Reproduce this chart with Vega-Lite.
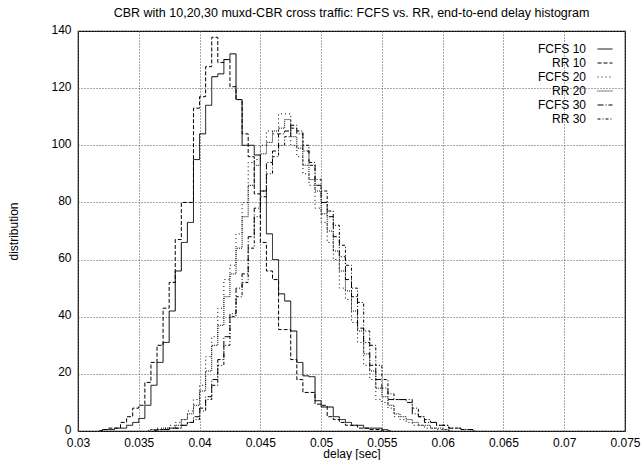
{
  "$schema": "https://vega.github.io/schema/vega-lite/v6.json",
  "width": 547,
  "height": 400,
  "autosize": {"type": "none"},
  "padding": {"left": 78, "top": 31, "right": 16, "bottom": 29},
  "background": "white",
  "title": {
    "text": "CBR with 10,20,30 muxd-CBR cross traffic: FCFS vs. RR, end-to-end delay histogram",
    "font": "Liberation Sans",
    "fontSize": 12.5,
    "fontWeight": "normal",
    "color": "black",
    "anchor": "middle",
    "offset": 4
  },
  "config": {
    "view": {"stroke": "black", "strokeWidth": 1.2},
    "axis": {
      "labelFont": "Liberation Sans",
      "labelFontSize": 12,
      "labelColor": "black",
      "titleFont": "Liberation Sans",
      "titleFontSize": 12,
      "titleFontWeight": "normal",
      "titleColor": "black",
      "domain": false,
      "ticks": false,
      "grid": true,
      "gridColor": "#555555",
      "gridDash": [1, 2],
      "gridWidth": 1,
      "gridOpacity": 1
    },
    "legend": {
      "labelFont": "Liberation Sans",
      "labelFontSize": 12,
      "labelColor": "black"
    }
  },
  "datasets": {
    "hist": [
      {"s": "FCFS 10", "d": 0.03175, "n": 0},
      {"s": "FCFS 10", "d": 0.03225, "n": 0.5},
      {"s": "FCFS 10", "d": 0.03275, "n": 0.5},
      {"s": "FCFS 10", "d": 0.03325, "n": 1},
      {"s": "FCFS 10", "d": 0.03375, "n": 1},
      {"s": "FCFS 10", "d": 0.03425, "n": 2},
      {"s": "FCFS 10", "d": 0.03475, "n": 3},
      {"s": "FCFS 10", "d": 0.03525, "n": 4.4},
      {"s": "FCFS 10", "d": 0.03575, "n": 9},
      {"s": "FCFS 10", "d": 0.03625, "n": 16},
      {"s": "FCFS 10", "d": 0.03675, "n": 24},
      {"s": "FCFS 10", "d": 0.03725, "n": 31},
      {"s": "FCFS 10", "d": 0.03775, "n": 42},
      {"s": "FCFS 10", "d": 0.03825, "n": 56},
      {"s": "FCFS 10", "d": 0.03875, "n": 66},
      {"s": "FCFS 10", "d": 0.03925, "n": 73},
      {"s": "FCFS 10", "d": 0.03975, "n": 95},
      {"s": "FCFS 10", "d": 0.04025, "n": 104},
      {"s": "FCFS 10", "d": 0.04075, "n": 114},
      {"s": "FCFS 10", "d": 0.04125, "n": 124},
      {"s": "FCFS 10", "d": 0.04175, "n": 125},
      {"s": "FCFS 10", "d": 0.04225, "n": 130},
      {"s": "FCFS 10", "d": 0.04275, "n": 132},
      {"s": "FCFS 10", "d": 0.04325, "n": 116},
      {"s": "FCFS 10", "d": 0.04375, "n": 100},
      {"s": "FCFS 10", "d": 0.04425, "n": 100},
      {"s": "FCFS 10", "d": 0.04475, "n": 96.6},
      {"s": "FCFS 10", "d": 0.04525, "n": 84},
      {"s": "FCFS 10", "d": 0.04575, "n": 69},
      {"s": "FCFS 10", "d": 0.04625, "n": 60},
      {"s": "FCFS 10", "d": 0.04675, "n": 48},
      {"s": "FCFS 10", "d": 0.04725, "n": 45.5},
      {"s": "FCFS 10", "d": 0.04775, "n": 35},
      {"s": "FCFS 10", "d": 0.04825, "n": 24},
      {"s": "FCFS 10", "d": 0.04875, "n": 19.3},
      {"s": "FCFS 10", "d": 0.04925, "n": 19},
      {"s": "FCFS 10", "d": 0.04975, "n": 10.6},
      {"s": "FCFS 10", "d": 0.05025, "n": 8.4},
      {"s": "FCFS 10", "d": 0.05075, "n": 8.4},
      {"s": "FCFS 10", "d": 0.05125, "n": 5},
      {"s": "FCFS 10", "d": 0.05175, "n": 4},
      {"s": "FCFS 10", "d": 0.05225, "n": 3},
      {"s": "FCFS 10", "d": 0.05275, "n": 2},
      {"s": "FCFS 10", "d": 0.05325, "n": 2},
      {"s": "FCFS 10", "d": 0.05375, "n": 1},
      {"s": "FCFS 10", "d": 0.05425, "n": 1},
      {"s": "FCFS 10", "d": 0.05475, "n": 1},
      {"s": "FCFS 10", "d": 0.05525, "n": 0.5},
      {"s": "FCFS 10", "d": 0.05575, "n": 0},
      {"s": "RR 10", "d": 0.03175, "n": 0},
      {"s": "RR 10", "d": 0.03225, "n": 0.5},
      {"s": "RR 10", "d": 0.03275, "n": 1},
      {"s": "RR 10", "d": 0.03325, "n": 1},
      {"s": "RR 10", "d": 0.03375, "n": 3},
      {"s": "RR 10", "d": 0.03425, "n": 5},
      {"s": "RR 10", "d": 0.03475, "n": 8},
      {"s": "RR 10", "d": 0.03525, "n": 9},
      {"s": "RR 10", "d": 0.03575, "n": 17},
      {"s": "RR 10", "d": 0.03625, "n": 24},
      {"s": "RR 10", "d": 0.03675, "n": 30},
      {"s": "RR 10", "d": 0.03725, "n": 43},
      {"s": "RR 10", "d": 0.03775, "n": 52},
      {"s": "RR 10", "d": 0.03825, "n": 67},
      {"s": "RR 10", "d": 0.03875, "n": 80},
      {"s": "RR 10", "d": 0.03925, "n": 80},
      {"s": "RR 10", "d": 0.03975, "n": 113},
      {"s": "RR 10", "d": 0.04025, "n": 117},
      {"s": "RR 10", "d": 0.04075, "n": 127.5},
      {"s": "RR 10", "d": 0.04125, "n": 137.8},
      {"s": "RR 10", "d": 0.04175, "n": 129},
      {"s": "RR 10", "d": 0.04225, "n": 130},
      {"s": "RR 10", "d": 0.04275, "n": 120.5},
      {"s": "RR 10", "d": 0.04325, "n": 116},
      {"s": "RR 10", "d": 0.04375, "n": 104},
      {"s": "RR 10", "d": 0.04425, "n": 96},
      {"s": "RR 10", "d": 0.04475, "n": 83},
      {"s": "RR 10", "d": 0.04525, "n": 66},
      {"s": "RR 10", "d": 0.04575, "n": 56},
      {"s": "RR 10", "d": 0.04625, "n": 53},
      {"s": "RR 10", "d": 0.04675, "n": 35.5},
      {"s": "RR 10", "d": 0.04725, "n": 35.5},
      {"s": "RR 10", "d": 0.04775, "n": 25},
      {"s": "RR 10", "d": 0.04825, "n": 18},
      {"s": "RR 10", "d": 0.04875, "n": 13.5},
      {"s": "RR 10", "d": 0.04925, "n": 13.5},
      {"s": "RR 10", "d": 0.04975, "n": 9.4},
      {"s": "RR 10", "d": 0.05025, "n": 9},
      {"s": "RR 10", "d": 0.05075, "n": 5},
      {"s": "RR 10", "d": 0.05125, "n": 4},
      {"s": "RR 10", "d": 0.05175, "n": 3},
      {"s": "RR 10", "d": 0.05225, "n": 2},
      {"s": "RR 10", "d": 0.05275, "n": 2},
      {"s": "RR 10", "d": 0.05325, "n": 1},
      {"s": "RR 10", "d": 0.05375, "n": 1},
      {"s": "RR 10", "d": 0.05425, "n": 0.5},
      {"s": "RR 10", "d": 0.05475, "n": 0.5},
      {"s": "RR 10", "d": 0.05525, "n": 0},
      {"s": "FCFS 20", "d": 0.03575, "n": 0},
      {"s": "FCFS 20", "d": 0.03625, "n": 0.5},
      {"s": "FCFS 20", "d": 0.03675, "n": 1},
      {"s": "FCFS 20", "d": 0.03725, "n": 1},
      {"s": "FCFS 20", "d": 0.03775, "n": 2},
      {"s": "FCFS 20", "d": 0.03825, "n": 3},
      {"s": "FCFS 20", "d": 0.03875, "n": 4},
      {"s": "FCFS 20", "d": 0.03925, "n": 7},
      {"s": "FCFS 20", "d": 0.03975, "n": 11},
      {"s": "FCFS 20", "d": 0.04025, "n": 16},
      {"s": "FCFS 20", "d": 0.04075, "n": 26},
      {"s": "FCFS 20", "d": 0.04125, "n": 33},
      {"s": "FCFS 20", "d": 0.04175, "n": 43},
      {"s": "FCFS 20", "d": 0.04225, "n": 53},
      {"s": "FCFS 20", "d": 0.04275, "n": 58},
      {"s": "FCFS 20", "d": 0.04325, "n": 69},
      {"s": "FCFS 20", "d": 0.04375, "n": 80},
      {"s": "FCFS 20", "d": 0.04425, "n": 94},
      {"s": "FCFS 20", "d": 0.04475, "n": 95},
      {"s": "FCFS 20", "d": 0.04525, "n": 100},
      {"s": "FCFS 20", "d": 0.04575, "n": 105},
      {"s": "FCFS 20", "d": 0.04625, "n": 104},
      {"s": "FCFS 20", "d": 0.04675, "n": 111},
      {"s": "FCFS 20", "d": 0.04725, "n": 111},
      {"s": "FCFS 20", "d": 0.04775, "n": 100},
      {"s": "FCFS 20", "d": 0.04825, "n": 96},
      {"s": "FCFS 20", "d": 0.04875, "n": 90},
      {"s": "FCFS 20", "d": 0.04925, "n": 86},
      {"s": "FCFS 20", "d": 0.04975, "n": 78},
      {"s": "FCFS 20", "d": 0.05025, "n": 73},
      {"s": "FCFS 20", "d": 0.05075, "n": 66},
      {"s": "FCFS 20", "d": 0.05125, "n": 60},
      {"s": "FCFS 20", "d": 0.05175, "n": 50},
      {"s": "FCFS 20", "d": 0.05225, "n": 46},
      {"s": "FCFS 20", "d": 0.05275, "n": 38},
      {"s": "FCFS 20", "d": 0.05325, "n": 31},
      {"s": "FCFS 20", "d": 0.05375, "n": 23},
      {"s": "FCFS 20", "d": 0.05425, "n": 18},
      {"s": "FCFS 20", "d": 0.05475, "n": 11},
      {"s": "FCFS 20", "d": 0.05525, "n": 10},
      {"s": "FCFS 20", "d": 0.05575, "n": 8},
      {"s": "FCFS 20", "d": 0.05625, "n": 5},
      {"s": "FCFS 20", "d": 0.05675, "n": 4},
      {"s": "FCFS 20", "d": 0.05725, "n": 3},
      {"s": "FCFS 20", "d": 0.05775, "n": 2},
      {"s": "FCFS 20", "d": 0.05825, "n": 2},
      {"s": "FCFS 20", "d": 0.05875, "n": 1},
      {"s": "FCFS 20", "d": 0.05925, "n": 1},
      {"s": "FCFS 20", "d": 0.05975, "n": 0.5},
      {"s": "FCFS 20", "d": 0.06025, "n": 0.5},
      {"s": "FCFS 20", "d": 0.06075, "n": 0},
      {"s": "RR 20", "d": 0.03575, "n": 0},
      {"s": "RR 20", "d": 0.03625, "n": 0.5},
      {"s": "RR 20", "d": 0.03675, "n": 0.5},
      {"s": "RR 20", "d": 0.03725, "n": 1},
      {"s": "RR 20", "d": 0.03775, "n": 1},
      {"s": "RR 20", "d": 0.03825, "n": 2},
      {"s": "RR 20", "d": 0.03875, "n": 4},
      {"s": "RR 20", "d": 0.03925, "n": 6},
      {"s": "RR 20", "d": 0.03975, "n": 9},
      {"s": "RR 20", "d": 0.04025, "n": 14},
      {"s": "RR 20", "d": 0.04075, "n": 21},
      {"s": "RR 20", "d": 0.04125, "n": 30},
      {"s": "RR 20", "d": 0.04175, "n": 37},
      {"s": "RR 20", "d": 0.04225, "n": 47},
      {"s": "RR 20", "d": 0.04275, "n": 55},
      {"s": "RR 20", "d": 0.04325, "n": 64},
      {"s": "RR 20", "d": 0.04375, "n": 75},
      {"s": "RR 20", "d": 0.04425, "n": 86},
      {"s": "RR 20", "d": 0.04475, "n": 93},
      {"s": "RR 20", "d": 0.04525, "n": 97},
      {"s": "RR 20", "d": 0.04575, "n": 101},
      {"s": "RR 20", "d": 0.04625, "n": 105},
      {"s": "RR 20", "d": 0.04675, "n": 106},
      {"s": "RR 20", "d": 0.04725, "n": 109},
      {"s": "RR 20", "d": 0.04775, "n": 103},
      {"s": "RR 20", "d": 0.04825, "n": 99},
      {"s": "RR 20", "d": 0.04875, "n": 93},
      {"s": "RR 20", "d": 0.04925, "n": 88},
      {"s": "RR 20", "d": 0.04975, "n": 84},
      {"s": "RR 20", "d": 0.05025, "n": 76},
      {"s": "RR 20", "d": 0.05075, "n": 70},
      {"s": "RR 20", "d": 0.05125, "n": 63},
      {"s": "RR 20", "d": 0.05175, "n": 56},
      {"s": "RR 20", "d": 0.05225, "n": 49},
      {"s": "RR 20", "d": 0.05275, "n": 42},
      {"s": "RR 20", "d": 0.05325, "n": 35},
      {"s": "RR 20", "d": 0.05375, "n": 27},
      {"s": "RR 20", "d": 0.05425, "n": 21},
      {"s": "RR 20", "d": 0.05475, "n": 15},
      {"s": "RR 20", "d": 0.05525, "n": 12},
      {"s": "RR 20", "d": 0.05575, "n": 9},
      {"s": "RR 20", "d": 0.05625, "n": 6},
      {"s": "RR 20", "d": 0.05675, "n": 5},
      {"s": "RR 20", "d": 0.05725, "n": 4},
      {"s": "RR 20", "d": 0.05775, "n": 3},
      {"s": "RR 20", "d": 0.05825, "n": 2},
      {"s": "RR 20", "d": 0.05875, "n": 2},
      {"s": "RR 20", "d": 0.05925, "n": 1},
      {"s": "RR 20", "d": 0.05975, "n": 1},
      {"s": "RR 20", "d": 0.06025, "n": 0.5},
      {"s": "RR 20", "d": 0.06075, "n": 0},
      {"s": "FCFS 30", "d": 0.03625, "n": 0},
      {"s": "FCFS 30", "d": 0.03675, "n": 0.5},
      {"s": "FCFS 30", "d": 0.03725, "n": 0.5},
      {"s": "FCFS 30", "d": 0.03775, "n": 1},
      {"s": "FCFS 30", "d": 0.03825, "n": 1},
      {"s": "FCFS 30", "d": 0.03875, "n": 2},
      {"s": "FCFS 30", "d": 0.03925, "n": 3},
      {"s": "FCFS 30", "d": 0.03975, "n": 5},
      {"s": "FCFS 30", "d": 0.04025, "n": 8},
      {"s": "FCFS 30", "d": 0.04075, "n": 12},
      {"s": "FCFS 30", "d": 0.04125, "n": 18},
      {"s": "FCFS 30", "d": 0.04175, "n": 25},
      {"s": "FCFS 30", "d": 0.04225, "n": 33},
      {"s": "FCFS 30", "d": 0.04275, "n": 41},
      {"s": "FCFS 30", "d": 0.04325, "n": 50},
      {"s": "FCFS 30", "d": 0.04375, "n": 55},
      {"s": "FCFS 30", "d": 0.04425, "n": 68},
      {"s": "FCFS 30", "d": 0.04475, "n": 78},
      {"s": "FCFS 30", "d": 0.04525, "n": 84},
      {"s": "FCFS 30", "d": 0.04575, "n": 94},
      {"s": "FCFS 30", "d": 0.04625, "n": 98},
      {"s": "FCFS 30", "d": 0.04675, "n": 104},
      {"s": "FCFS 30", "d": 0.04725, "n": 105},
      {"s": "FCFS 30", "d": 0.04775, "n": 107},
      {"s": "FCFS 30", "d": 0.04825, "n": 104},
      {"s": "FCFS 30", "d": 0.04875, "n": 98},
      {"s": "FCFS 30", "d": 0.04925, "n": 94},
      {"s": "FCFS 30", "d": 0.04975, "n": 86},
      {"s": "FCFS 30", "d": 0.05025, "n": 80},
      {"s": "FCFS 30", "d": 0.05075, "n": 75},
      {"s": "FCFS 30", "d": 0.05125, "n": 68},
      {"s": "FCFS 30", "d": 0.05175, "n": 61},
      {"s": "FCFS 30", "d": 0.05225, "n": 53},
      {"s": "FCFS 30", "d": 0.05275, "n": 47},
      {"s": "FCFS 30", "d": 0.05325, "n": 36},
      {"s": "FCFS 30", "d": 0.05375, "n": 31},
      {"s": "FCFS 30", "d": 0.05425, "n": 23},
      {"s": "FCFS 30", "d": 0.05475, "n": 18},
      {"s": "FCFS 30", "d": 0.05525, "n": 15},
      {"s": "FCFS 30", "d": 0.05575, "n": 11},
      {"s": "FCFS 30", "d": 0.05625, "n": 11},
      {"s": "FCFS 30", "d": 0.05675, "n": 11},
      {"s": "FCFS 30", "d": 0.05725, "n": 10},
      {"s": "FCFS 30", "d": 0.05775, "n": 6},
      {"s": "FCFS 30", "d": 0.05825, "n": 5},
      {"s": "FCFS 30", "d": 0.05875, "n": 3},
      {"s": "FCFS 30", "d": 0.05925, "n": 3},
      {"s": "FCFS 30", "d": 0.05975, "n": 2},
      {"s": "FCFS 30", "d": 0.06025, "n": 2},
      {"s": "FCFS 30", "d": 0.06075, "n": 1},
      {"s": "FCFS 30", "d": 0.06125, "n": 1},
      {"s": "FCFS 30", "d": 0.06175, "n": 0.5},
      {"s": "FCFS 30", "d": 0.06225, "n": 0.5},
      {"s": "FCFS 30", "d": 0.06275, "n": 0},
      {"s": "RR 30", "d": 0.03625, "n": 0},
      {"s": "RR 30", "d": 0.03675, "n": 0.5},
      {"s": "RR 30", "d": 0.03725, "n": 0.5},
      {"s": "RR 30", "d": 0.03775, "n": 1},
      {"s": "RR 30", "d": 0.03825, "n": 1},
      {"s": "RR 30", "d": 0.03875, "n": 2},
      {"s": "RR 30", "d": 0.03925, "n": 3},
      {"s": "RR 30", "d": 0.03975, "n": 4},
      {"s": "RR 30", "d": 0.04025, "n": 7},
      {"s": "RR 30", "d": 0.04075, "n": 11},
      {"s": "RR 30", "d": 0.04125, "n": 16},
      {"s": "RR 30", "d": 0.04175, "n": 23},
      {"s": "RR 30", "d": 0.04225, "n": 30},
      {"s": "RR 30", "d": 0.04275, "n": 40},
      {"s": "RR 30", "d": 0.04325, "n": 47},
      {"s": "RR 30", "d": 0.04375, "n": 52},
      {"s": "RR 30", "d": 0.04425, "n": 64},
      {"s": "RR 30", "d": 0.04475, "n": 75},
      {"s": "RR 30", "d": 0.04525, "n": 82},
      {"s": "RR 30", "d": 0.04575, "n": 90},
      {"s": "RR 30", "d": 0.04625, "n": 96},
      {"s": "RR 30", "d": 0.04675, "n": 100},
      {"s": "RR 30", "d": 0.04725, "n": 103},
      {"s": "RR 30", "d": 0.04775, "n": 106},
      {"s": "RR 30", "d": 0.04825, "n": 105},
      {"s": "RR 30", "d": 0.04875, "n": 100},
      {"s": "RR 30", "d": 0.04925, "n": 93},
      {"s": "RR 30", "d": 0.04975, "n": 88},
      {"s": "RR 30", "d": 0.05025, "n": 84},
      {"s": "RR 30", "d": 0.05075, "n": 77},
      {"s": "RR 30", "d": 0.05125, "n": 72},
      {"s": "RR 30", "d": 0.05175, "n": 65},
      {"s": "RR 30", "d": 0.05225, "n": 58},
      {"s": "RR 30", "d": 0.05275, "n": 50},
      {"s": "RR 30", "d": 0.05325, "n": 45},
      {"s": "RR 30", "d": 0.05375, "n": 35},
      {"s": "RR 30", "d": 0.05425, "n": 30},
      {"s": "RR 30", "d": 0.05475, "n": 23},
      {"s": "RR 30", "d": 0.05525, "n": 18},
      {"s": "RR 30", "d": 0.05575, "n": 13},
      {"s": "RR 30", "d": 0.05625, "n": 11},
      {"s": "RR 30", "d": 0.05675, "n": 11},
      {"s": "RR 30", "d": 0.05725, "n": 11},
      {"s": "RR 30", "d": 0.05775, "n": 8},
      {"s": "RR 30", "d": 0.05825, "n": 5},
      {"s": "RR 30", "d": 0.05875, "n": 4},
      {"s": "RR 30", "d": 0.05925, "n": 3},
      {"s": "RR 30", "d": 0.05975, "n": 2},
      {"s": "RR 30", "d": 0.06025, "n": 2},
      {"s": "RR 30", "d": 0.06075, "n": 1},
      {"s": "RR 30", "d": 0.06125, "n": 1},
      {"s": "RR 30", "d": 0.06175, "n": 0.5},
      {"s": "RR 30", "d": 0.06225, "n": 0.5},
      {"s": "RR 30", "d": 0.06275, "n": 0}
    ]
  },
  "data": {"name": "hist"},
  "mark": {"type": "line", "interpolate": "step", "color": "black", "strokeWidth": 1, "clip": true},
  "encoding": {
    "x": {
      "field": "d",
      "type": "quantitative",
      "scale": {"domain": [0.03, 0.075], "nice": false, "zero": false},
      "axis": {
        "title": "delay [sec]",
        "values": [0.03, 0.035, 0.04, 0.045, 0.05, 0.055, 0.06, 0.065, 0.07, 0.075],
        "format": "~g",
        "labelPadding": 6,
        "titlePadding": 0,
        "labelFlush": false
      }
    },
    "y": {
      "field": "n",
      "type": "quantitative",
      "scale": {"domain": [0, 140], "nice": false},
      "axis": {
        "title": "distribution",
        "values": [0, 20, 40, 60, 80, 100, 120, 140],
        "labelPadding": 7,
        "labelOffset": -2,
        "titlePadding": 30,
        "labelFlush": false
      }
    },
    "strokeDash": {
      "field": "s",
      "type": "nominal",
      "sort": ["FCFS 10", "RR 10", "FCFS 20", "RR 20", "FCFS 30", "RR 30"],
      "scale": {
        "domain": ["FCFS 10", "RR 10", "FCFS 20", "RR 20", "FCFS 30", "RR 30"],
        "range": [[1, 0], [4, 2], [1, 3], [1, 1], [6, 2, 1, 2], [3, 2, 1, 2]]
      },
      "legend": {
        "title": null,
        "orient": "top-right",
        "offset": 10,
        "symbolType": "stroke",
        "symbolSize": 225,
        "symbolStrokeWidth": 1,
        "symbolStrokeColor": "black",
        "labelAlign": "right",
        "labelOffset": -27,
        "rowPadding": -3,
        "labelFontSize": 12
      }
    }
  }
}
